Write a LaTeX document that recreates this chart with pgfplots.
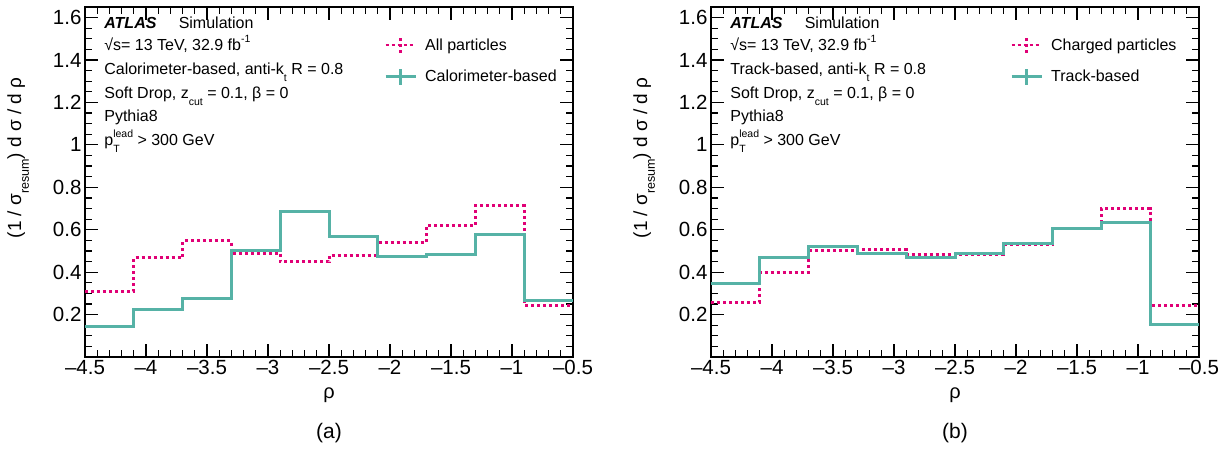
\documentclass[border=0pt]{standalone}
\usepackage{fontspec}
\setmainfont{Liberation Sans}
\usepackage{pgfplots}
\pgfplotsset{compat=1.18}
\definecolor{tealc}{RGB}{86,178,166}
\definecolor{magc}{RGB}{224,0,118}
\newcommand{\sub}[1]{\raisebox{-0.42em}{\fontsize{10.5}{10.5}\selectfont #1}}
\newcommand{\sups}[1]{\raisebox{0.5em}{\fontsize{10.5}{10.5}\selectfont #1}}
\newcommand{\lsub}[1]{\raisebox{-0.4em}{\fontsize{12.5}{12.5}\selectfont #1}}
\newcommand{\txt}{\fontsize{16}{19}\selectfont}
\tikzset{lab/.style={anchor=base west, font=\txt, inner sep=0pt}}
\pgfplotsset{
  atlasax/.style={
    scale only axis, width=488pt, height=350pt,
    xmin=-4.5, xmax=-0.5, ymin=0, ymax=1.65,
    xtick={-4.5,-4,-3.5,-3,-2.5,-2,-1.5,-1,-0.5},
    xticklabels={–4.5,–4,–3.5,–3,–2.5,–2,–1.5,–1,–0.5},
    minor x tick num=4,
    ytick={0,0.2,0.4,0.6,0.8,1,1.2,1.4,1.6},
    yticklabels={,0.2,0.4,0.6,0.8,1,1.2,1.4,1.6},
    minor y tick num=3,
    tick align=inside, tick pos=both,
    major tick length=13pt, minor tick length=7pt,
    major tick style={black, line width=1.2pt},
    minor tick style={black, line width=1.2pt},
    axis line style={line width=1.6pt},
    ticklabel style={font=\fontsize{20.5}{22}\selectfont},
    xlabel={ρ},
    ylabel={(1 / σ\lsub{resum}) d σ / d ρ},
    xlabel style={font=\fontsize{20}{22}\selectfont, at={(axis description cs:0.5,-0.108)}, anchor=center},
    ylabel style={font=\fontsize{19}{21}\selectfont, at={(axis description cs:-0.137,0.569)}, anchor=center},
    legend style={at={(0.613,0.918)}, anchor=north west, draw=none, fill=none,
      font=\txt, row sep=13pt, inner sep=0pt},
    legend cell align=left,
  },
  magleg/.style={legend image code/.code={
      \draw[magc, line width=2.5pt, dash pattern=on 3pt off 3pt] (0pt,0pt) -- (30pt,0pt);
      \draw[magc, line width=2.5pt, dash pattern=on 3pt off 3pt] (15pt,-8pt) -- (15pt,8pt);
      \path (36pt,0pt);}},
  tealeg/.style={legend image code/.code={
      \draw[tealc, line width=2.5pt] (0pt,0pt) -- (30pt,0pt);
      \draw[tealc, line width=2.5pt] (15pt,-8pt) -- (15pt,8pt);
      \path (36pt,0pt);}},
}
\begin{document}
\begin{tikzpicture}[x=1pt,y=1pt]
\useasboundingbox (0,0) rectangle (1231,450);
% ---------------- panel (a)
\begin{axis}[atlasax, name=ax1, at={(85pt,93pt)}, anchor=south west]
\addplot[magc, line width=3pt, dash pattern=on 3pt off 3pt, const plot, magleg] coordinates {
(-4.5,0.311) (-4.1,0.468) (-3.7,0.547) (-3.3,0.490) (-2.9,0.449) (-2.5,0.480)
(-2.1,0.541) (-1.7,0.619) (-1.3,0.712) (-0.9,0.245) (-0.5,0.245)};
\addlegendentry{All particles}
\addplot[tealc, line width=3pt, const plot, tealeg] coordinates {
(-4.5,0.145) (-4.1,0.224) (-3.7,0.274) (-3.3,0.500) (-2.9,0.688) (-2.5,0.569)
(-2.1,0.475) (-1.7,0.484) (-1.3,0.578) (-0.9,0.267) (-0.5,0.267)};
\addlegendentry{Calorimeter-based}
\node[lab] at (axis cs:-4.343,1.549) {\textbf{\textit{ATLAS}}};
\node[lab] at (axis cs:-3.733,1.549) {Simulation};
\node[lab] at (axis cs:-4.343,1.443) {√s= 13 TeV, 32.9 fb\sups{-1}};
\node[lab] at (axis cs:-4.343,1.330) {Calorimeter-based, anti-k\sub{t} R = 0.8};
\node[lab] at (axis cs:-4.343,1.217) {Soft Drop, z\sub{cut} = 0.1, β = 0};
\node[lab] at (axis cs:-4.343,1.108) {Pythia8};
\node[lab] at (axis cs:-4.343,0.995) {p\makebox[0pt][l]{\sub{T}}\sups{lead} > 300 GeV};
\end{axis}
\node[font=\fontsize{21}{24}\selectfont] at ([yshift=-76pt]ax1.south) {(a)};
% ---------------- panel (b)
\begin{axis}[atlasax, name=ax2, at={(711pt,93pt)}, anchor=south west]
\addplot[magc, line width=3pt, dash pattern=on 3pt off 3pt, const plot, magleg] coordinates {
(-4.5,0.257) (-4.1,0.400) (-3.7,0.502) (-3.3,0.505) (-2.9,0.482) (-2.5,0.485)
(-2.1,0.529) (-1.7,0.606) (-1.3,0.700) (-0.9,0.243) (-0.5,0.243)};
\addlegendentry{Charged particles}
\addplot[tealc, line width=3pt, const plot, tealeg] coordinates {
(-4.5,0.347) (-4.1,0.471) (-3.7,0.521) (-3.3,0.490) (-2.9,0.468) (-2.5,0.490)
(-2.1,0.536) (-1.7,0.606) (-1.3,0.634) (-0.9,0.153) (-0.5,0.153)};
\addlegendentry{Track-based}
\node[lab] at (axis cs:-4.343,1.549) {\textbf{\textit{ATLAS}}};
\node[lab] at (axis cs:-3.733,1.549) {Simulation};
\node[lab] at (axis cs:-4.343,1.443) {√s= 13 TeV, 32.9 fb\sups{-1}};
\node[lab] at (axis cs:-4.343,1.330) {Track-based, anti-k\sub{t} R = 0.8};
\node[lab] at (axis cs:-4.343,1.217) {Soft Drop, z\sub{cut} = 0.1, β = 0};
\node[lab] at (axis cs:-4.343,1.108) {Pythia8};
\node[lab] at (axis cs:-4.343,0.995) {p\makebox[0pt][l]{\sub{T}}\sups{lead} > 300 GeV};
\end{axis}
\node[font=\fontsize{21}{24}\selectfont] at ([yshift=-76pt]ax2.south) {(b)};
\end{tikzpicture}
\end{document}
